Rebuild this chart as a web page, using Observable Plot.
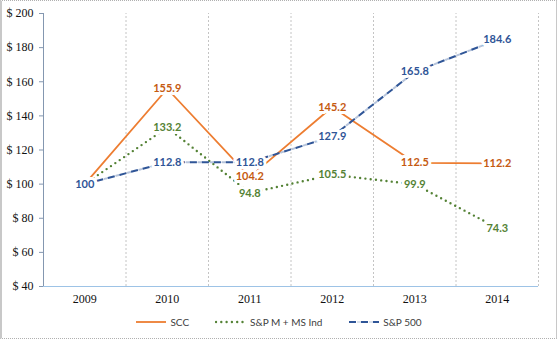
<!DOCTYPE html>
<html>
<head>
<meta charset="utf-8">
<script src="https://cdn.jsdelivr.net/npm/d3@7"></script>
<script src="https://cdn.jsdelivr.net/npm/@observablehq/plot@0.6"></script>
<style>
  html, body { margin: 0; padding: 0; background: #fff; }
  #wrap { position: relative; width: 557px; height: 339px; overflow: hidden; }
  #frame { position: absolute; left: 0; top: 0; width: 557px; height: 339px; box-sizing: border-box;
           border-top: 1px dotted #b0b0b0; border-bottom: 1px dotted #b0b0b0;
           border-left: 2px solid #c8c8c8; border-right: 1px solid #c8c8c8; pointer-events: none; }
  #chart { position: absolute; left: 0; top: 0; }
  #legend { position: absolute; top: 316px; left: 0; width: 557px; display: flex; justify-content: center;
            align-items: center; gap: 26px; font-family: Lato, "Open Sans", sans-serif; font-size: 10px; color: #404040; }
  #legend .item { display: flex; align-items: center; gap: 3px; }
  #legend svg { display: block; }
</style>
</head>
<body>
<div id="wrap">
  <div id="chart"></div>
  <div id="legend"></div>
  <div id="frame"></div>
</div>
<script>
const years = [2009, 2010, 2011, 2012, 2013, 2014];
const seriesNames = ["SCC", "S&P M + MS Ind", "S&P 500"];
const scc = [100, 155.9, 104.2, 145.2, 112.5, 112.2];
const spm = [100, 133.2, 94.8, 105.5, 99.9, 74.3];
const sp500 = [100, 112.8, 112.8, 127.9, 165.8, 184.6];
const yTicks = [40, 60, 80, 100, 120, 140, 160, 180, 200];
const gridX = [2009.5, 2010.5, 2011.5, 2012.5, 2013.5, 2014.5];

const lineColors = ["#ED7D31", "#548235", "#2F5597"];
const labelColors = ["#C55A11", "#548235", "#2F5597"];
const dashes = [null, "0,5.3", "7,5"];
const dotDashes = [null, null, "0,8.5,1,1,1,0.5"];
const widths = [1.8, 2.4, 2];
const caps = ["butt", "round", "butt"];
const serif = "'Liberation Serif', 'DejaVu Serif', serif";

const valuesList = [scc, spm, sp500];
const table = [];
valuesList.forEach((vals, s) => vals.forEach((v, i) => table.push({series: seriesNames[s], s, year: years[i], value: v})));

const lineMarks = [];
seriesNames.forEach((name, s) => {
  const rows = table.filter(d => d.s === s);
  lineMarks.push(Plot.line(rows, {
    x: "year", y: "value", stroke: lineColors[s], strokeWidth: widths[s],
    strokeDasharray: dashes[s], strokeLinecap: caps[s]
  }));
  if (dotDashes[s]) lineMarks.push(Plot.line(rows, {
    x: "year", y: "value", stroke: lineColors[s], strokeWidth: widths[s], strokeOpacity: 0.35,
    strokeDasharray: dotDashes[s]
  }));
});
const labelMarks = seriesNames.map((name, s) =>
  Plot.text(table.filter(d => d.s === s), {
    x: "year", y: "value", text: d => String(d.value), fill: labelColors[s],
    stroke: "white", strokeWidth: 6, paintOrder: "stroke",
    fontFamily: "Lato, 'Open Sans', sans-serif", fontWeight: "bold", fontSize: 11
  })
);

const chart = Plot.plot({
  width: 557, height: 310,
  marginLeft: 43, marginRight: 19, marginTop: 13, marginBottom: 24,
  style: {fontFamily: serif, fontSize: "12px", color: "#222", background: "transparent"},
  x: {domain: [2008.5, 2014.5]},
  y: {domain: [40, 200]},
  marks: [
    Plot.ruleX(gridX, {y1: 40, y2: 200, stroke: "#c4c4c4", strokeDasharray: "2,2"}),
    Plot.ruleY([40], {stroke: "#9dc3e6", strokeWidth: 1.2}),
    Plot.ruleX([2008.5], {y1: 40, y2: 200, stroke: "#8497b0"}),
    Plot.axisY({ticks: yTicks, tickSize: 4, tickPadding: 6, tickFormat: d => "$ " + d, stroke: "#8497b0", fill: "#111", fontFamily: serif, fontSize: 12, label: null}),
    Plot.axisX({ticks: years, tickSize: 0, tickPadding: 8, tickFormat: d => String(d), fill: "#111", fontFamily: serif, fontSize: 12, label: null}),
    ...lineMarks,
    ...labelMarks
  ]
});
document.getElementById("chart").appendChild(chart);

const legend = document.getElementById("legend");
seriesNames.forEach((name, s) => {
  const item = document.createElement("div");
  item.className = "item";
  const ns = "http://www.w3.org/2000/svg";
  const sw = document.createElementNS(ns, "svg");
  sw.setAttribute("width", 32); sw.setAttribute("height", 6);
  const mk = (dash, op) => {
    const ln = document.createElementNS(ns, "line");
    ln.setAttribute("x1", 1); ln.setAttribute("x2", 31); ln.setAttribute("y1", 3); ln.setAttribute("y2", 3);
    ln.setAttribute("stroke", lineColors[s]); ln.setAttribute("stroke-width", widths[s]);
    ln.setAttribute("stroke-linecap", caps[s]);
    if (dash) ln.setAttribute("stroke-dasharray", dash);
    if (op != null) ln.setAttribute("stroke-opacity", op);
    sw.appendChild(ln);
  };
  mk(dashes[s], null);
  if (dotDashes[s]) mk(dotDashes[s], 0.35);
  const label = document.createElement("span");
  label.textContent = name;
  item.appendChild(sw); item.appendChild(label);
  legend.appendChild(item);
});
</script>
</body>
</html>
